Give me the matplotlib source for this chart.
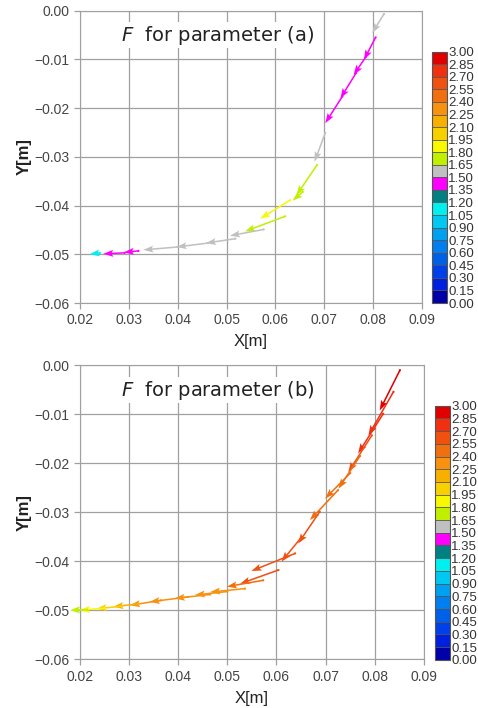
import matplotlib
matplotlib.use("Agg")
import matplotlib.pyplot as plt
import numpy as np
from matplotlib.colors import ListedColormap, BoundaryNorm

# discrete colour scale, 0.00 .. 3.00 in steps of 0.15 (bottom to top)
levels = np.round(np.arange(0, 3.0001, 0.15), 2)
level_colors = ['#0000a8', '#0020e0', '#0040e8', '#0060e8', '#0080f0', '#00a0f0',
                '#00c8f0', '#00f0f0', '#008080', '#ff00ff', '#c0c0c0', '#c0f000',
                '#f8f800', '#f8d000', '#f8b000', '#f89010', '#f07010', '#f05010',
                '#f03010', '#e00000']

# parameter (a): arrow tails, heads and F
a_x0 = [0.0822, 0.0805, 0.0785, 0.0765, 0.0737, 0.0702, 0.0685, 0.0656, 0.0630, 0.0620,
        0.0576, 0.0518, 0.0462, 0.0400, 0.0320, 0.0292, 0.0241]
a_y0 = [-0.0007, -0.0055, -0.0095, -0.0128, -0.0176, -0.0251, -0.0317, -0.0372, -0.0389, -0.0422,
        -0.0449, -0.0468, -0.0477, -0.0485, -0.0493, -0.0497, -0.0497]
a_x1 = [0.0798, 0.0781, 0.0760, 0.0733, 0.0702, 0.0680, 0.0643, 0.0635, 0.0569, 0.0538,
        0.0507, 0.0458, 0.0398, 0.0330, 0.0290, 0.0248, 0.0220]
a_y1 = [-0.0046, -0.0101, -0.0132, -0.0180, -0.0231, -0.0310, -0.0379, -0.0390, -0.0427, -0.0453,
        -0.0462, -0.0477, -0.0485, -0.0491, -0.0496, -0.0499, -0.0500]
a_F = [1.57, 1.42, 1.42, 1.42, 1.42, 1.57, 1.72, 1.72, 1.87, 1.72,
       1.57, 1.57, 1.57, 1.57, 1.42, 1.42, 1.10]

# parameter (b)
b_x0 = [0.0851, 0.0838, 0.0817, 0.0794, 0.0770, 0.0750, 0.0725, 0.0688, 0.0650, 0.0638,
        0.0604, 0.0573, 0.0536, 0.0500, 0.0465, 0.0420, 0.0365, 0.0320, 0.0285, 0.0250, 0.0215]
b_y0 = [-0.0010, -0.0054, -0.0099, -0.0143, -0.0185, -0.0220, -0.0255, -0.0299, -0.0352, -0.0384,
        -0.0418, -0.0439, -0.0456, -0.0462, -0.0468, -0.0473, -0.0480, -0.0487, -0.0492, -0.0496, -0.0499]
b_x1 = [0.0810, 0.0787, 0.0766, 0.0746, 0.0726, 0.0699, 0.0668, 0.0644, 0.0610, 0.0549,
        0.0526, 0.0499, 0.0465, 0.0434, 0.0393, 0.0342, 0.0302, 0.0268, 0.0234, 0.0200, 0.0180]
b_y1 = [-0.0092, -0.0143, -0.0180, -0.0218, -0.0252, -0.0272, -0.0316, -0.0364, -0.0401, -0.0420,
        -0.0446, -0.0452, -0.0463, -0.0469, -0.0476, -0.0483, -0.0490, -0.0493, -0.0497, -0.0500, -0.0500]
b_F = [2.90, 2.80, 2.75, 2.60, 2.50, 2.45, 2.45, 2.60, 2.60, 2.65,
       2.60, 2.45, 2.35, 2.30, 2.30, 2.30, 2.30, 2.20, 2.05, 1.90, 1.75]

xticks = [0.02, 0.03, 0.04, 0.05, 0.06, 0.07, 0.08, 0.09]
yticks = [0.00, -0.01, -0.02, -0.03, -0.04, -0.05, -0.06]

plt.rcParams['font.family'] = ['Liberation Sans', 'DejaVu Sans']
cmap = ListedColormap(level_colors)
norm = BoundaryNorm(levels, cmap.N)

fig = plt.figure(figsize=(4.78, 7.08), dpi=100)


def panel(ax_rect, cb_rect, x0, y0, x1, y1, F, tag):
    ax = fig.add_axes(ax_rect)
    x0 = np.array(x0); y0 = np.array(y0)
    u = np.array(x1) - x0
    v = np.array(y1) - y0
    ax.quiver(x0, y0, u, v, F, cmap=cmap, norm=norm, angles='xy', scale_units='xy',
              scale=1, width=0.0045, headwidth=4.5, headlength=6.5, headaxislength=5.5,
              zorder=3, clip_on=False)
    ax.scatter(x0, y0, c=F, cmap=cmap, norm=norm, s=2.5, linewidths=0, zorder=3, clip_on=False)
    ax.set_xlim(0.02, 0.09)
    ax.set_ylim(-0.06, 0.0)
    ax.set_xticks(xticks)
    ax.set_yticks(yticks)
    ax.set_xticklabels(['%.2f' % t for t in xticks])
    ax.set_yticklabels([('%.2f' % t).replace('-', '\u2212') for t in yticks])
    ax.grid(True, color='#a0a0a0', linewidth=0.9)
    ax.set_axisbelow(True)
    for s in ax.spines.values():
        s.set_color('#a0a0a0')
    ax.tick_params(colors='#a0a0a0', labelcolor='#444444', labelsize=10, length=4, width=0.9)
    ax.set_xlabel('X[m]', fontsize=12, color='#222222', labelpad=5)
    ax.set_ylabel('Y[m]', fontsize=12, fontweight='bold', color='#222222', labelpad=2)
    ax.text(0.12, 0.955, r'$\mathit{F}$  for parameter (' + tag + ')', transform=ax.transAxes,
            fontsize=14, family='DejaVu Sans', color='#222222', va='top',
            bbox=dict(facecolor='white', edgecolor='none', pad=1), zorder=4)
    cax = fig.add_axes(cb_rect)
    cb = fig.colorbar(plt.cm.ScalarMappable(norm=norm, cmap=cmap), cax=cax,
                      ticks=levels, drawedges=True)
    cb.outline.set_edgecolor('#555555')
    cb.dividers.set_color('#555555')
    cb.dividers.set_linewidth(0.6)
    cax.set_yticklabels(['%.2f' % t for t in levels])
    cax.tick_params(length=0, pad=1, labelsize=9.5, labelcolor='#333333')
    return ax


panel([0.167, 0.572, 0.716, 0.413], [0.904, 0.572, 0.031, 0.355],
      a_x0, a_y0, a_x1, a_y1, a_F, 'a')
panel([0.167, 0.069, 0.720, 0.415], [0.910, 0.068, 0.031, 0.359],
      b_x0, b_y0, b_x1, b_y1, b_F, 'b')

fig.savefig('out.png', dpi=100)
